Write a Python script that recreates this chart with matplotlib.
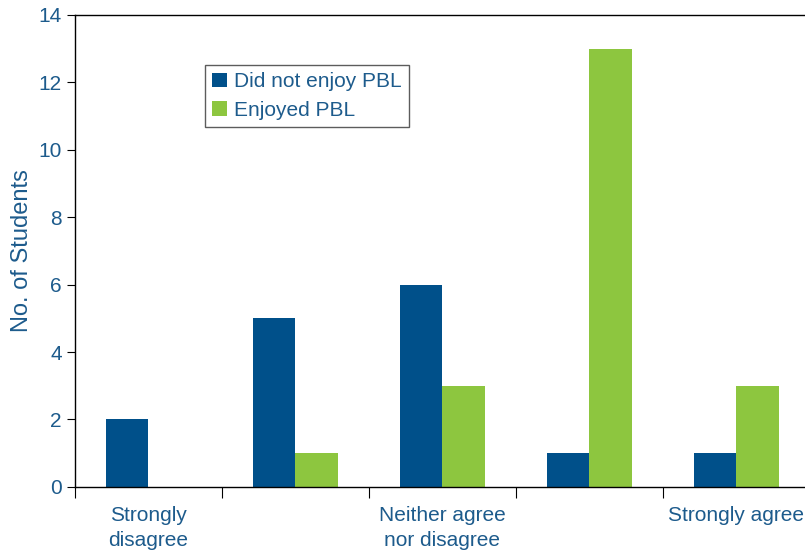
import numpy as np
import matplotlib.pyplot as plt

plt.rcParams['font.family'] = ['Liberation Sans', 'DejaVu Sans']

# Survey responses, counted per answer
categories = ['Strongly\ndisagree', '', 'Neither agree\nnor disagree', '', 'Strongly agree']
did_not_enjoy = [2, 5, 6, 1, 1]
enjoyed = [0, 1, 3, 13, 3]

text_col = '#1d5b8c'
blue = '#00508a'
green = '#8dc63f'

fig = plt.figure(figsize=(8.05, 5.52), dpi=100)
ax = fig.add_axes([0.093, 0.118, 0.913, 0.855])

x = np.arange(len(categories))
w = 0.29
ax.bar(x - w / 2, did_not_enjoy, w, color=blue, label='Did not enjoy PBL')
ax.bar(x + w / 2, enjoyed, w, color=green, label='Enjoyed PBL')

ax.set_xlim(-0.5, len(categories) - 0.5)
ax.set_ylim(0, 14)
ax.set_yticks(range(0, 15, 2))
ax.tick_params(axis='y', colors='black', labelcolor=text_col, labelsize=15,
               length=6, direction='out')

# category labels sit between the boundary ticks
ax.set_xticks(x - 0.5, minor=False)
ax.set_xticklabels([''] * len(x))
ax.set_xticks(x, minor=True)
ax.set_xticklabels(categories, minor=True, color=text_col, fontsize=15,
                   linespacing=1.35)
ax.tick_params(axis='x', which='major', length=8, colors='black')
ax.tick_params(axis='x', which='minor', length=0, pad=14)

ax.set_ylabel('No. of Students', color=text_col, fontsize=17, labelpad=4)

for s in ax.spines.values():
    s.set_linewidth(1.0)
    s.set_color('black')

leg = ax.legend(loc='upper left', bbox_to_anchor=(0.177, 0.894), fontsize=15,
                borderaxespad=0, frameon=True, fancybox=False,
                handlelength=0.7, handleheight=0.7, handletextpad=0.35,
                borderpad=0.35, labelspacing=0.45)
leg.get_frame().set_edgecolor('#333333')
leg.get_frame().set_linewidth(1.0)
for t in leg.get_texts():
    t.set_color(text_col)

fig.savefig('out.png', dpi=100)
